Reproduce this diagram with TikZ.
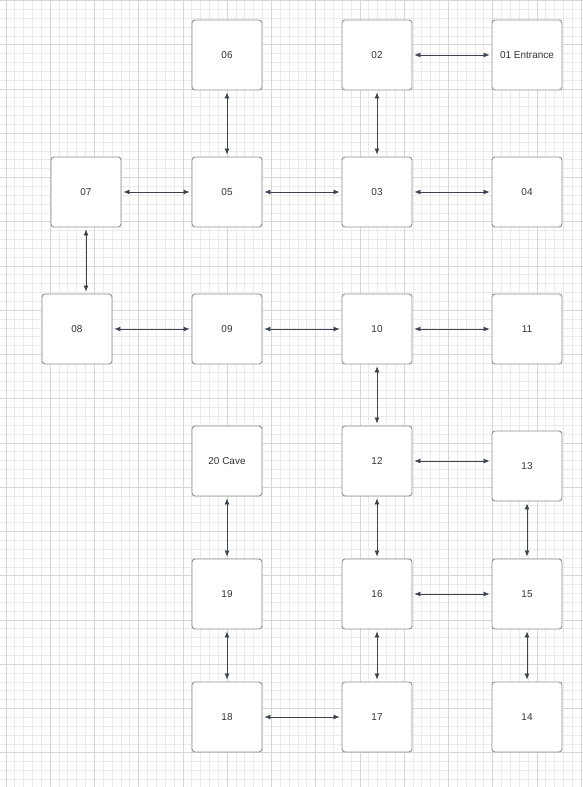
\documentclass[tikz,border=0pt]{standalone}
\usepackage{fontspec}
\setmainfont{Liberation Sans}
\usetikzlibrary{arrows.meta}
\definecolor{gridminor}{HTML}{EBEBEB}
\definecolor{gridmajor}{HTML}{D6D6D6}
\definecolor{boxline}{HTML}{8F8F8F}
\definecolor{conncol}{HTML}{3D4450}
\definecolor{txtcol}{HTML}{333333}
\tikzset{
  room/.style={draw=boxline, line width=0.9pt, rounded corners=3pt, fill=white,
    minimum width=70pt, minimum height=70pt, inner sep=0pt,
    font=\fontsize{10}{12}\selectfont, text=txtcol},
  conn/.style={draw=conncol, line width=0.8pt,
    {Latex[length=6pt,width=5pt]}-{Latex[length=6pt,width=5pt]},
    shorten <=2pt, shorten >=2pt},
  minorline/.style={draw=gridminor, line width=1pt},
  majorline/.style={draw=gridmajor, line width=1pt}
}
\begin{document}
\begin{tikzpicture}[x={(1pt,0)}, y={(0,-1pt)}]
\useasboundingbox (0,0) rectangle (583,787);
\fill[white] (0,0) rectangle (583,787);
% grid
\foreach \i in {0,...,66} {
  \draw[minorline] ({6+\i*8.85},0) -- ({6+\i*8.85},787);
}
\foreach \j in {0,...,89} {
  \draw[minorline] (0,{0.6+\j*8.85}) -- (583,{0.6+\j*8.85});
}
\foreach \i in {0,...,13} {
  \draw[majorline] ({6+\i*44.25},0) -- ({6+\i*44.25},787);
}
\foreach \j in {0,...,17} {
  \draw[majorline] (0,{0.6+\j*44.25}) -- (583,{0.6+\j*44.25});
}
% rooms
\node[room] (r06) at (227,55) {06};
\node[room] (r02) at (377,55) {02};
\node[room] (r01) at (527,55) {01 Entrance};
\node[room] (r07) at (86,192) {07};
\node[room] (r05) at (227,192) {05};
\node[room] (r03) at (377,192) {03};
\node[room] (r04) at (527,192) {04};
\node[room] (r08) at (77,329) {08};
\node[room] (r09) at (227,329) {09};
\node[room] (r10) at (377,329) {10};
\node[room] (r11) at (527,329) {11};
\node[room] (r20) at (227,461) {20 Cave};
\node[room] (r12) at (377,461) {12};
\node[room] (r13) at (527,466) {13};
\node[room] (r19) at (227,594) {19};
\node[room] (r16) at (377,594) {16};
\node[room] (r15) at (527,594) {15};
\node[room] (r18) at (227,717) {18};
\node[room] (r17) at (377,717) {17};
\node[room] (r14) at (527,717) {14};
% connectors
\draw[conn] (r02.east) -- (r01.west);
\draw[conn] (r06.south) -- (r05.north);
\draw[conn] (r02.south) -- (r03.north);
\draw[conn] (r07.east) -- (r05.west);
\draw[conn] (r05.east) -- (r03.west);
\draw[conn] (r03.east) -- (r04.west);
\draw[conn] (r07.south) -- (r07.south |- r08.north);
\draw[conn] (r08.east) -- (r09.west);
\draw[conn] (r09.east) -- (r10.west);
\draw[conn] (r10.east) -- (r11.west);
\draw[conn] (r10.south) -- (r12.north);
\draw[conn] (r12.east) -- (r12.east -| r13.west);
\draw[conn] (r12.south) -- (r16.north);
\draw[conn] (r13.south) -- (r15.north);
\draw[conn] (r16.east) -- (r15.west);
\draw[conn] (r15.south) -- (r14.north);
\draw[conn] (r16.south) -- (r17.north);
\draw[conn] (r20.south) -- (r19.north);
\draw[conn] (r19.south) -- (r18.north);
\draw[conn] (r18.east) -- (r17.west);
\end{tikzpicture}
\end{document}
